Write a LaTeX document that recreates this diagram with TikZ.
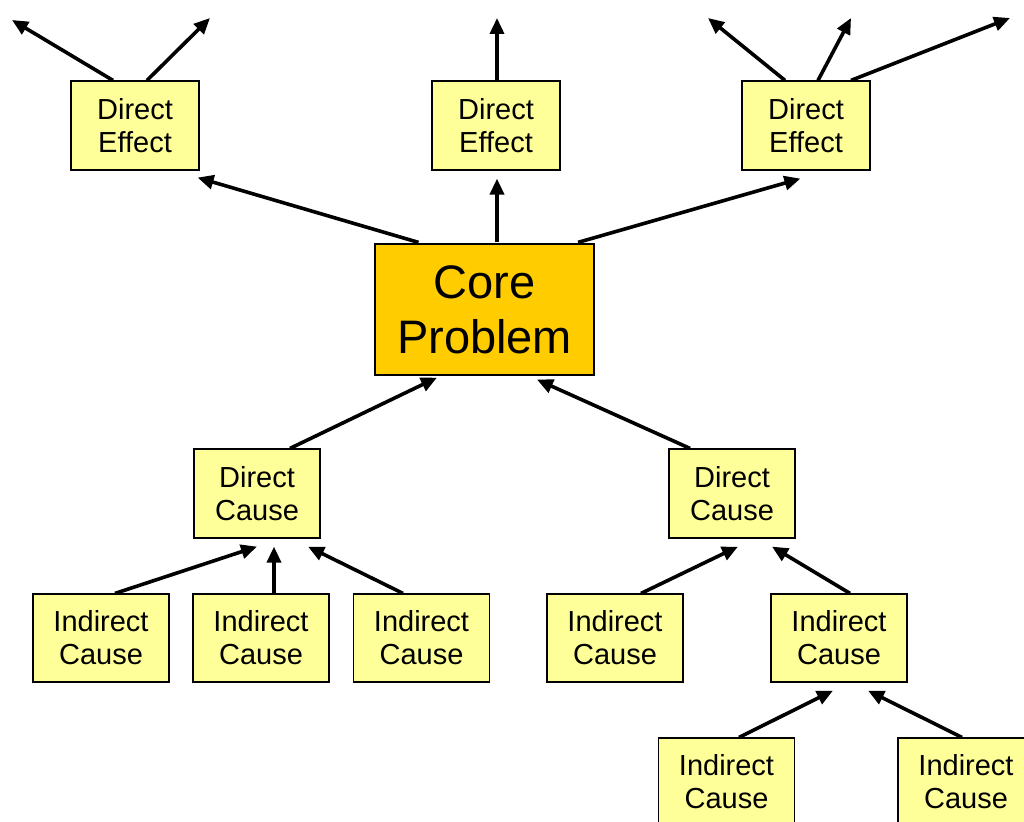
\documentclass[tikz,border=0pt]{standalone}
\usepackage{fontspec}
\setmainfont{Liberation Sans}
\usetikzlibrary{arrows.meta,calc}
\definecolor{paleyellow}{HTML}{FFFF99}
\definecolor{coregold}{HTML}{FFCC00}
\tikzset{
  box/.style={draw=black, line width=1.2pt, fill=paleyellow, inner sep=0pt,
    align=center, font=\fontsize{29}{33}\selectfont},
  effectbox/.style={box, minimum width=128, minimum height=89},
  causebox/.style={box, minimum width=126, minimum height=89},
  indbox/.style={box, minimum width=136, minimum height=88},
  corebox/.style={box, fill=coregold, minimum width=219, minimum height=131,
    font=\fontsize{47}{55}\selectfont},
  link/.style={line width=3.6pt, -{Triangle[length=16pt,width=14pt]}}
}
\begin{document}
\begin{tikzpicture}[x=1pt,y=-1pt]
\useasboundingbox (0,0) rectangle (1024,821);
\clip (0,0) rectangle (1024,821);

% boxes
\node[effectbox] (de1) at (135,125.5) {Direct\\Effect};
\node[effectbox] (de2) at (496,125.5) {Direct\\Effect};
\node[effectbox] (de3) at (806,125.5) {Direct\\Effect};
\node[corebox]   (core) at (484.5,309.5) {Core\\Problem};
\node[causebox]  (dc1) at (257,493.5) {Direct\\Cause};
\node[causebox]  (dc2) at (732,493.5) {Direct\\Cause};
\node[indbox] (ic1) at (101,638) {Indirect\\Cause};
\node[indbox] (ic2) at (261,638) {Indirect\\Cause};
\node[indbox] (ic3) at (421.5,638) {Indirect\\Cause};
\node[indbox] (ic4) at (615,638) {Indirect\\Cause};
\node[indbox] (ic5) at (839,638) {Indirect\\Cause};
\node[indbox] (ic6) at (726.5,782) {Indirect\\Cause};
\node[indbox] (ic7) at (966,782) {Indirect\\Cause};

% free ends of the outgoing effects
\coordinate (o1) at (12,20);
\coordinate (o2) at (210,18);
\coordinate (o3) at (497,18);
\coordinate (o4) at (708,18);
\coordinate (o5) at (851,18);
\coordinate (o6) at (1010,18);

% effects leading further up
\draw[link] ($(de1.north)+(-22,0)$) -- (o1);
\draw[link] ($(de1.north)+(12,0)$) -- (o2);
\draw[link] ($(de2.north)+(1,0)$) -- (o3);
\draw[link] ($(de3.north)+(-21,0)$) -- (o4);
\draw[link] ($(de3.north)+(12,0)$) -- (o5);
\draw[link] ($(de3.north)+(45,0)$) -- (o6);

% core problem to direct effects
\draw[link] ($(core.north)+(-66,-1)$) -- ($(de1.south east)+(-2,7)$);
\draw[link] ($(core.north)+(12.5,-1)$) -- ($(de2.south)+(1,8)$);
\draw[link] ($(core.north)+(93.5,-1)$) -- ($(de3.south west)+(59,8)$);

% direct causes to core problem
\draw[link] ($(dc1.north)+(33,0)$) -- ($(core.south)+(-47.5,2)$);
\draw[link] ($(dc2.north)+(-42,0)$) -- ($(core.south)+(52.5,4)$);

% indirect causes to direct causes
\draw[link] ($(ic1.north)+(14,0)$) -- ($(dc1.south)+(0,8)$);
\draw[link] ($(ic2.north)+(13,0)$) -- ($(dc1.south)+(17,8)$);
\draw[link] ($(ic3.north)+(-18.5,0)$) -- ($(dc1.south)+(51,8)$);
\draw[link] ($(ic4.north)+(26,0)$) -- ($(dc2.south)+(6,8)$);
\draw[link] ($(ic5.north)+(11,0)$) -- ($(dc2.south)+(40,8)$);
\draw[link] ($(ic6.north)+(12.5,0)$) -- ($(ic5.south)+(-6,8)$);
\draw[link] ($(ic7.north)+(-4,0)$) -- ($(ic5.south)+(29,8)$);
\end{tikzpicture}
\end{document}
